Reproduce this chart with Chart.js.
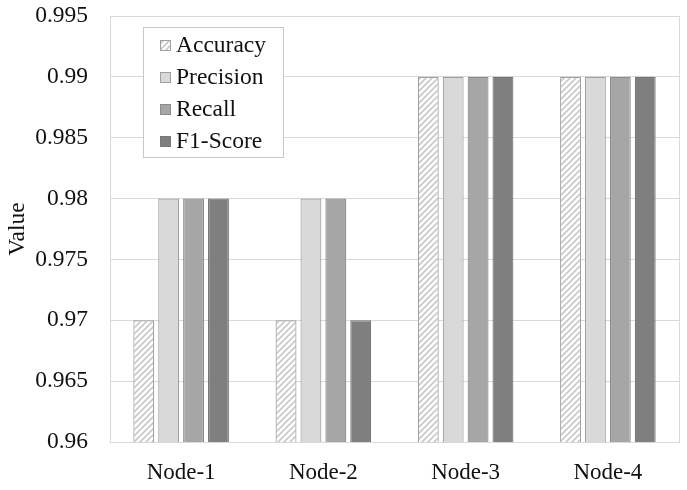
<!DOCTYPE html>
<html>
<head>
<meta charset="utf-8">
<script src="https://cdn.jsdelivr.net/npm/chart.js@4.4.1/dist/chart.umd.min.js"></script>
<style>
  html, body { margin: 0; padding: 0; background: #fff; }
  #wrap { width: 687px; height: 490px; }
</style>
</head>
<body>
<div id="wrap"><canvas id="barChart"></canvas></div>
<script>
// data
var nodes = ['Node-1', 'Node-2', 'Node-3', 'Node-4'];
var accuracy = [0.97, 0.97, 0.99, 0.99];
var precision = [0.98, 0.98, 0.99, 0.99];
var recall = [0.98, 0.98, 0.99, 0.99];
var f1Score = [0.98, 0.97, 0.99, 0.99];
var yTicks = [0.96, 0.965, 0.97, 0.975, 0.98, 0.985, 0.99, 0.995];

var serif = "'Liberation Serif', 'Times New Roman', serif";

// diagonal hatch for Accuracy
function makeHatch() {
    var c = document.createElement('canvas');
    c.width = 6; c.height = 6;
    var g = c.getContext('2d');
    g.fillStyle = '#ffffff';
    g.fillRect(0, 0, 6, 6);
    g.strokeStyle = '#c8c8c8';
    g.lineWidth = 1.6;
    g.beginPath();
    g.moveTo(-1, 7); g.lineTo(7, -1);
    g.moveTo(-4, 4); g.lineTo(4, -4);
    g.moveTo(2, 10); g.lineTo(10, 2);
    g.stroke();
    return g.createPattern(c, 'repeat');
}
var hatch = makeHatch();

// legend box inside the plot, drawn by hand
var boxLegend = {
    id: 'boxLegend',
    afterDraw: function (chart) {
        var ctx = chart.ctx;
        var area = chart.chartArea;
        var x0 = 143, y0 = 27, w = 140, h = 130;
        ctx.save();
        ctx.fillStyle = '#ffffff';
        ctx.fillRect(x0, y0, w, h);
        ctx.strokeStyle = '#c8c8c8';
        ctx.lineWidth = 1;
        ctx.strokeRect(x0 + 0.5, y0 + 0.5, w, h);
        ctx.font = '23.5px ' + serif;
        ctx.textBaseline = 'middle';
        chart.data.datasets.forEach(function (ds, i) {
            var cy = 45 + i * 32;
            ctx.fillStyle = ds.backgroundColor;
            ctx.fillRect(160, cy - 5, 11, 11);
            ctx.strokeStyle = ds.borderColor;
            ctx.strokeRect(160.5, cy - 4.5, 10, 10);
            ctx.fillStyle = '#111';
            ctx.fillText(ds.label, 176, cy + 1);
        });
        // right edge of the plot frame
        ctx.strokeStyle = '#d9d9d9';
        ctx.beginPath();
        ctx.moveTo(area.right + 0.5, area.top);
        ctx.lineTo(area.right + 0.5, area.bottom);
        ctx.stroke();
        ctx.restore();
    }
};

var barChart = new Chart(document.getElementById('barChart'), {
    type: 'bar',
    data: {
        labels: nodes,
        datasets: [
            { label: 'Accuracy', data: accuracy, backgroundColor: hatch, borderColor: '#a0a0a0', borderWidth: 1.2 },
            { label: 'Precision', data: precision, backgroundColor: '#d9d9d9', borderColor: '#a0a0a0', borderWidth: 1.2 },
            { label: 'Recall', data: recall, backgroundColor: '#a6a6a6', borderColor: '#8c8c8c', borderWidth: 1.2 },
            { label: 'F1-Score', data: f1Score, backgroundColor: '#7f7f7f', borderColor: '#777777', borderWidth: 1.2 }
        ]
    },
    options: {
        responsive: true,
        maintainAspectRatio: false,
        animation: false,
        layout: { padding: { top: 16, right: 8, left: 0, bottom: 0 } },
        datasets: { bar: { categoryPercentage: 0.7, barPercentage: 0.84 } },
        plugins: {
            legend: { display: false },
            tooltip: { enabled: false }
        },
        scales: {
            x: {
                grid: { display: false },
                border: { display: true, color: '#d9d9d9' },
                ticks: { color: '#111', font: { family: serif, size: 23 }, padding: 9 },
                afterFit: function (scale) { scale.height = 48; }
            },
            y: {
                min: 0.96,
                max: 0.995,
                afterBuildTicks: function (scale) {
                    scale.ticks = yTicks.map(function (v) { return { value: v }; });
                },
                grid: { color: '#d9d9d9', drawTicks: false },
                border: { display: true, color: '#d9d9d9' },
                ticks: {
                    color: '#111',
                    font: { family: serif, size: 23.5 },
                    padding: 22,
                    callback: function (v) { return String(parseFloat(v.toFixed(3))); }
                },
                title: { display: true, text: 'Value', color: '#111', font: { family: serif, size: 23.5 }, padding: 4 },
                afterFit: function (scale) {
                    scale.width = 110;
                    scale.paddingTop = 0;
                    scale.paddingBottom = 0;
                }
            }
        }
    },
    plugins: [boxLegend]
});
</script>
</body>
</html>
